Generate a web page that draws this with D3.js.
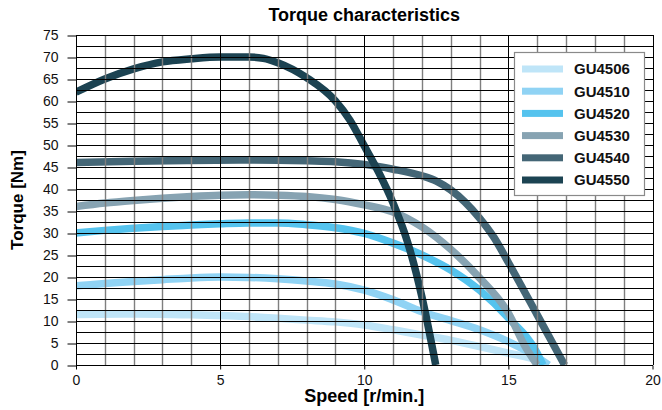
<!DOCTYPE html>
<html>
<head>
<meta charset="utf-8">
<script src="https://cdn.jsdelivr.net/npm/d3@7"></script>
<style>
  body { margin: 0; background: #fff; }
  svg { font-family: "Liberation Sans", Arial, Helvetica, sans-serif; }
</style>
</head>
<body>
<svg></svg>
<script>
// series names, legend order
const seriesNames = ["GU4506", "GU4510", "GU4520", "GU4530", "GU4540", "GU4550"];
const seriesColors = ["#bfe5f8", "#90d3f4", "#55c3ee", "#87a3b2", "#446676", "#1c4352"];

// [speed, torque]
const gu4506 = [[0,11.5],[2,11.6],[4,11.4],[6,11],[7,10.6],[8,10.2],[9,9.8],[10,9.1],[11,8],[12,6.8],[13,5.6],[14,4.2],[15,2.7],[16,1.1],[16.4,0]];
const gu4510 = [[0,18],[1,18.5],[2,19],[3,19.4],[4,19.8],[5,20],[6,19.9],[7,19.6],[8,19.1],[9,18.4],[10,17],[11,14.8],[12,12.1],[13,10.1],[14,8],[15,5.3],[16,1.8],[16.4,0]];
const gu4520 = [[0,30],[1,30.6],[2,31.1],[3,31.5],[4,31.8],[5,32.1],[6,32.3],[7,32.3],[8,31.9],[9,31.2],[10,29.9],[11,27.7],[12,25],[13,21.6],[14,17],[15,10.7],[16,2.7],[16.2,0]];
const gu4530 = [[0,36],[1,36.8],[2,37.4],[3,37.9],[4,38.3],[5,38.6],[6,38.7],[7,38.6],[8,38.3],[9,37.6],[10,36.4],[11,34.8],[12,31.4],[13,26.3],[14,19.8],[15,11.8],[15.6,4],[16,0]];
const gu4540 = [[0,46],[2,46.3],[4,46.5],[6,46.6],[8,46.4],[9,46.2],[10,45.6],[11,44.5],[12,43],[12.5,41.8],[13,39.8],[13.5,37],[14,33.4],[14.5,29],[15,23.3],[16,11.4],[16.95,0]];
const gu4550 = [[0,62],[1,65],[2,67.3],[3,68.9],[4,69.6],[5,70],[6,70],[6.5,69.7],[7,68.7],[8,65.3],[9,60],[9.5,55.7],[10,49.8],[10.5,43.8],[11,36.8],[11.5,28],[12,15.5],[12.48,0]];

const seriesData = [gu4506, gu4510, gu4520, gu4530, gu4540, gu4550];

const xTicks = [0, 5, 10, 15, 20];
const yTicks = [0, 5, 10, 15, 20, 25, 30, 35, 40, 45, 50, 55, 60, 65, 70, 75];

const width = 662;
const height = 410;
const margin = {top: 35, right: 9, bottom: 45, left: 76};

let xScale;
let yScale;

const svg = d3.select("svg");

const drawCanvas = () => {
    svg.attr("width", width)
       .attr("height", height)
}

const generateScales = () => {
    xScale = d3.scaleLinear()
               .domain([0, 20])
               .range([margin.left, width - margin.right - 0.5])
    yScale = d3.scaleLinear()
               .domain([0, 75])
               .range([height - margin.bottom, margin.top])
}

const drawLines = () => {
    svg.append("clipPath")
       .attr("id", "plot-clip")
       .append("rect")
       .attr("x", xScale(0))
       .attr("y", yScale(75))
       .attr("width", xScale(20) - xScale(0))
       .attr("height", yScale(0) - yScale(75))

    const line = d3.line()
                   .x(d => xScale(d[0]))
                   .y(d => yScale(d[1]))
                   .curve(d3.curveMonotoneX)

    svg.append("g")
       .attr("clip-path", "url(#plot-clip)")
       .selectAll("path")
       .data(seriesData)
       .enter()
       .append("path")
       .attr("d", line)
       .attr("fill", "none")
       .attr("stroke", (d, i) => seriesColors[i])
       .attr("stroke-width", 7.5)
}

const drawGrid = () => {
    const grid = svg.append("g").attr("id", "grid")

    grid.selectAll("line.v")
        .data(d3.range(0, 21))
        .enter()
        .append("line")
        .attr("x1", d => Math.round(xScale(d)) + 0.5)
        .attr("x2", d => Math.round(xScale(d)) + 0.5)
        .attr("y1", yScale(75))
        .attr("y2", yScale(0))
        .attr("stroke", d => d % 5 === 0 ? "#000" : "#7f7f7f")
        .attr("stroke-width", d => d % 5 === 0 ? 1 : 1.4)

    grid.selectAll("line.h")
        .data(d3.range(0, 76, 2.5))
        .enter()
        .append("line")
        .attr("x1", xScale(0))
        .attr("x2", xScale(20) + 0.5)
        .attr("y1", d => Math.round(yScale(d)) + 0.5)
        .attr("y2", d => Math.round(yScale(d)) + 0.5)
        .attr("stroke", "#000")
        .attr("stroke-width", 1)
}

const generateAxis = () => {
    const xAxis = d3.axisBottom(xScale)
                    .tickValues(xTicks)
                    .tickSize(4)
                    .tickPadding(6)
    const yAxis = d3.axisLeft(yScale)
                    .tickValues(yTicks)
                    .tickSize(9)
                    .tickPadding(9)

    const gx = svg.append("g")
                  .attr("id", "x-axis")
                  .attr("transform", "translate(0," + (Math.round(yScale(0)) + 0.5) + ")")
                  .call(xAxis)
    const gy = svg.append("g")
                  .attr("id", "y-axis")
                  .attr("transform", "translate(" + (Math.round(xScale(0)) + 0.5) + ",0)")
                  .call(yAxis)

    ;[gx, gy].forEach(g => {
        g.select(".domain").remove()
        g.selectAll("text")
         .attr("font-size", 14)
         .attr("font-family", null)
         .attr("fill", "#111")
        g.selectAll("line").attr("stroke", "#000")
    })
    gy.selectAll(".tick line").attr("transform", "translate(0,0.5)")
}

const drawLabels = () => {
    svg.append("text")
       .attr("x", (xScale(0) + xScale(20)) / 2)
       .attr("y", 21)
       .attr("text-anchor", "middle")
       .attr("font-size", 18)
       .attr("font-weight", "bold")
       .text("Torque characteristics")

    svg.append("text")
       .attr("x", (xScale(0) + xScale(20)) / 2)
       .attr("y", 402)
       .attr("text-anchor", "middle")
       .attr("font-size", 18)
       .attr("font-weight", "bold")
       .text("Speed [r/min.]")

    svg.append("text")
       .attr("transform", "translate(23," + (yScale(0) + yScale(75)) / 2 + ") rotate(-90)")
       .attr("text-anchor", "middle")
       .attr("font-size", 17)
       .attr("font-weight", "bold")
       .text("Torque [Nm]")
}

const drawLegend = () => {
    const legend = svg.append("g")
                      .attr("id", "legend")
                      .attr("transform", "translate(514,52)")

    legend.append("rect")
          .attr("x", 0.5)
          .attr("y", 0.5)
          .attr("width", 130)
          .attr("height", 143)
          .attr("fill", "#fff")
          .attr("stroke", "#8a8a8a")
          .attr("stroke-width", 1.2)

    const rows = legend.selectAll("g.row")
                       .data(seriesNames)
                       .enter()
                       .append("g")
                       .attr("transform", (d, i) => "translate(0," + (17 + i * 22.2) + ")")

    rows.append("rect")
        .attr("x", 8)
        .attr("y", -3.5)
        .attr("width", 41)
        .attr("height", 7)
        .attr("fill", (d, i) => seriesColors[i])

    rows.append("text")
        .attr("x", 60)
        .attr("dy", "0.36em")
        .attr("font-size", 15)
        .attr("font-weight", "bold")
        .attr("fill", "#111")
        .text(d => d)
}

drawCanvas()
generateScales()
drawLines()
drawGrid()
generateAxis()
drawLabels()
drawLegend()
</script>
</body>
</html>
